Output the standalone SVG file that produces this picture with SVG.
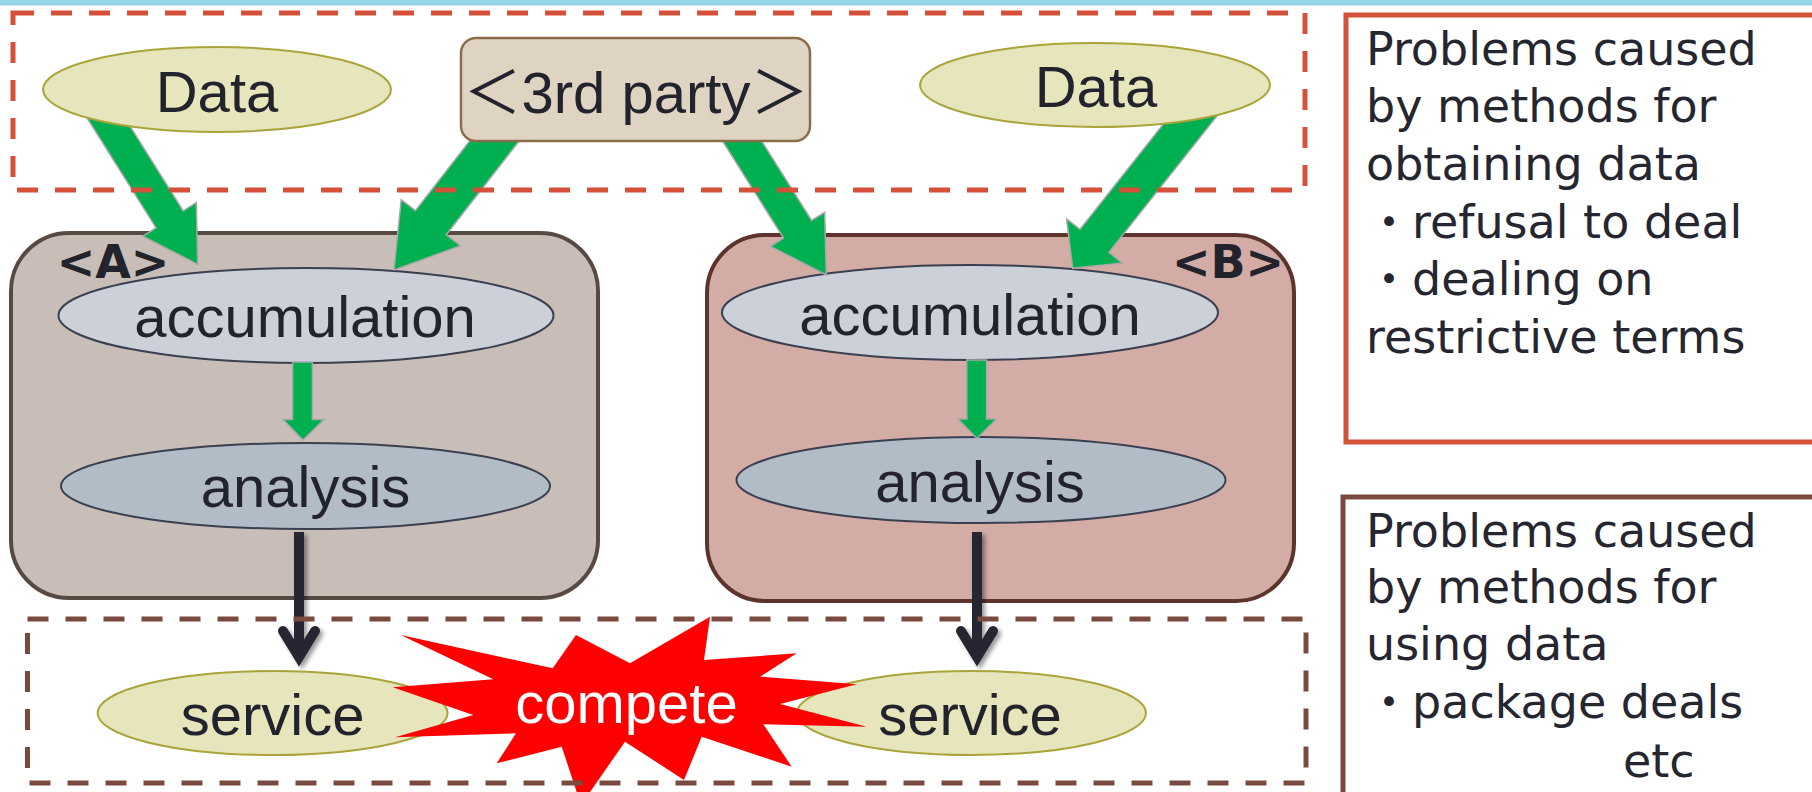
<svg xmlns="http://www.w3.org/2000/svg" width="1812" height="792" viewBox="0 0 1812 792">
<defs>
<style>
.lbl{font-family:"Liberation Sans",Arial,"Noto Sans CJK JP",sans-serif;font-size:58px;fill:#23232d;text-anchor:middle}
.tag{font-family:"DejaVu Sans","Noto Sans CJK JP",sans-serif;font-size:46px;font-weight:bold;fill:#23232d;text-anchor:middle}
.note{font-family:"DejaVu Sans","Noto Sans CJK JP",sans-serif;font-size:46px;fill:#262630}
.data{fill:#e6e5bb;stroke:#aaa43a;stroke-width:2}
.acc{fill:#cbd0d9;stroke:#3a4050;stroke-width:2}
.ana{fill:#b2bcc6;stroke:#3a4050;stroke-width:2}
.garrow{fill:#00b050;stroke:#a8a8a8;stroke-width:1.5;stroke-linejoin:miter}
.barrow{fill:none;stroke:#262630;stroke-width:10}
.dash{fill:none;stroke-width:5;stroke-dasharray:21 17}
</style>
<filter id="sh" x="-50%" y="-10%" width="200%" height="130%">
<feDropShadow dx="3" dy="3" stdDeviation="2" flood-color="#000" flood-opacity="0.4"/>
</filter>
</defs>
<rect x="0" y="0" width="1812" height="792" fill="#ffffff"/>
<rect x="0" y="0" width="1812" height="5.5" fill="#95d3e9"/>

<g id="companyA">
<rect x="11" y="233" width="587" height="365" rx="58" ry="58" fill="#c8bdb7" stroke="#574a42" stroke-width="4"/>
<text class="tag" x="113" y="278">&lt;A&gt;</text>
</g>
<g id="companyB">
<rect x="707" y="235" width="587" height="366" rx="58" ry="58" fill="#d3aca6" stroke="#5c342c" stroke-width="4"/>
<text class="tag" x="1228" y="278">&lt;B&gt;</text>
</g>
<g id="accumA">
<ellipse class="acc" cx="306" cy="315.5" rx="247.5" ry="47.5"/>
<text class="lbl" x="305" y="337">accumulation</text>
</g>
<g id="analysisA">
<ellipse class="ana" cx="305.5" cy="486" rx="244.5" ry="43"/>
<text class="lbl" x="305.5" y="507">analysis</text>
</g>
<g id="accumB">
<ellipse class="acc" cx="970" cy="312.5" rx="248" ry="47.5"/>
<text class="lbl" x="970" y="335">accumulation</text>
</g>
<g id="analysisB">
<ellipse class="ana" cx="981" cy="480" rx="244.5" ry="43"/>
<text class="lbl" x="980" y="502">analysis</text>
</g>

<g id="connectors">
<polygon class="garrow" points="110.4,94.9 183.2,210.9 196.3,202.7 197.7,264.3 142.9,236.1 156.1,227.9 83.3,111.9"/>
<polygon class="garrow" points="526.1,132.1 446.2,234.7 460.4,245.7 394,270 401.2,199.7 415.4,210.7 495.3,108.1"/>
<polygon class="garrow" points="739.2,105.3 811.6,220.5 824.7,212.3 826.3,275 770.5,246.3 783.6,238.1 711.2,122.9"/>
<polygon class="garrow" points="1220.7,111.2 1108.9,252.4 1122.2,262.9 1072.7,268.3 1066.6,218.9 1079.9,229.4 1191.7,88.2"/>
<polygon class="garrow" points="292.6,362 312.4,362 312.4,419.5 324,419.5 303,440 283,419.5 292.6,419.5"/>
<polygon class="garrow" points="966.8,360 986.6,360 986.6,419 996.4,419 977,438.5 958,419 966.8,419"/>
<g filter="url(#sh)">
<line class="barrow" x1="299" y1="532" x2="299" y2="655"/>
<path class="barrow" d="M283,631 L299,657 L315,631" stroke-linecap="round" stroke-linejoin="miter"/>
</g>
<g filter="url(#sh)">
<line class="barrow" x1="977" y1="532" x2="977" y2="655"/>
<path class="barrow" d="M961,631 L977,657 L993,631" stroke-linecap="round" stroke-linejoin="miter"/>
</g>
</g>

<g id="data1">
<ellipse class="data" cx="217" cy="89.5" rx="174" ry="42.5"/>
<text class="lbl" x="217" y="112">Data</text>
</g>
<g id="thirdParty">
<rect x="461" y="38" width="349" height="103" rx="15" ry="15" fill="#dfd3c2" stroke="#8b6d4b" stroke-width="2.5"/>
<text class="lbl" x="636" y="113">＜3rd party＞</text>
</g>
<g id="data2">
<ellipse class="data" cx="1095" cy="85" rx="175" ry="42"/>
<text class="lbl" x="1096" y="107">Data</text>
</g>

<g id="serviceA">
<ellipse class="data" cx="272.6" cy="713" rx="175" ry="42"/>
<text class="lbl" x="272.6" y="735">service</text>
</g>
<g id="serviceB">
<ellipse class="data" cx="971.5" cy="713" rx="174.5" ry="42"/>
<text class="lbl" x="970" y="735">service</text>
</g>
<g id="compete">
<polygon fill="#ff0000" points="400.7,635 552.7,668.3 576,635 630,663.3 710,616.7 704,660 796.7,653.3 760,676.7 856.7,684.3 780,704 866.7,726.7 763.3,724.3 791.7,766.7 701.7,736.7 684,780 625,741.7 581,805 561.7,746.7 496.7,763.3 516,733.3 395,737.3 473.3,715 392.7,687.3 493.3,679.3"/>
<text class="lbl" x="626.5" y="723" style="fill:#ffffff">compete</text>
</g>

<g id="obtainArea">
<rect class="dash" x="13" y="13" width="1292" height="177" stroke="#d55038"/>
</g>
<g id="useArea">
<rect class="dash" x="27.5" y="619" width="1278.5" height="164" stroke="#7b4a3e"/>
</g>

<g id="obtainProblems">
<rect x="1346" y="15" width="520" height="427" fill="none" stroke="#d35239" stroke-width="5"/>
<text class="note" x="1366" y="65">Problems caused</text>
<text class="note" x="1366" y="122">by methods for</text>
<text class="note" x="1366" y="180">obtaining data</text>
<text class="note" x="1366" y="238">・refusal to deal</text>
<text class="note" x="1366" y="295">・dealing on</text>
<text class="note" x="1366" y="353">restrictive terms</text>
</g>
<g id="useProblems">
<rect x="1343" y="497" width="520" height="400" fill="none" stroke="#7b4a3e" stroke-width="5"/>
<text class="note" x="1366" y="547">Problems caused</text>
<text class="note" x="1366" y="603">by methods for</text>
<text class="note" x="1366" y="660">using data</text>
<text class="note" x="1366" y="718">・package deals</text>
<text class="note" x="1623" y="777">etc</text>
</g>
</svg>
